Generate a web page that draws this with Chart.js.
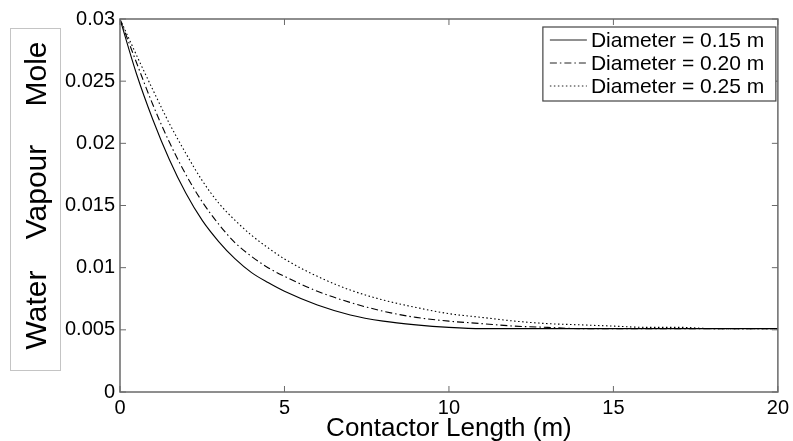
<!DOCTYPE html>
<html>
<head>
<meta charset="utf-8">
<script src="https://cdn.jsdelivr.net/npm/chart.js@4.4.0/dist/chart.umd.min.js"></script>
<style>
html, body { margin: 0; padding: 0; background: #fff; }
#wrap { width: 793px; height: 441px; }
</style>
</head>
<body>
<div id="wrap"><canvas id="chart" width="793" height="441"></canvas></div>
<script>
// Contactor length (m)
const lengths = [0, 0.5, 1, 1.5, 2, 2.5, 3, 3.5, 4, 4.5, 5, 6, 7, 8, 9, 10, 11, 12, 13, 14, 15, 16, 17, 18, 19, 20];

// Water vapour mole fraction for each diameter
const d015 = [0.0300, 0.0256, 0.0219, 0.0187, 0.0160, 0.0138, 0.0121, 0.0107, 0.0096, 0.0088, 0.0081, 0.0070, 0.0062, 0.0057, 0.0054, 0.0052, 0.0051, 0.0051, 0.0051, 0.0051, 0.0051, 0.0051, 0.0051, 0.0051, 0.0051, 0.0051];
const d020 = [0.0300, 0.0265, 0.0231, 0.0201, 0.0175, 0.0153, 0.0135, 0.0120, 0.0109, 0.0100, 0.0093, 0.0081, 0.0072, 0.0065, 0.0060, 0.0057, 0.0055, 0.0053, 0.0052, 0.0051, 0.0051, 0.0051, 0.0051, 0.0051, 0.0051, 0.0051];
const d025 = [0.0300, 0.0271, 0.0243, 0.0216, 0.0192, 0.0170, 0.0152, 0.0138, 0.0126, 0.0116, 0.0107, 0.0093, 0.0082, 0.0074, 0.0068, 0.0063, 0.0060, 0.0057, 0.0055, 0.0054, 0.0053, 0.0052, 0.0052, 0.0051, 0.0051, 0.0051];

const seriesLabels = ['Diameter = 0.15 m', 'Diameter = 0.20 m', 'Diameter = 0.25 m'];
const xTicks = [0, 5, 10, 15, 20];
const yTicks = [0, 0.005, 0.01, 0.015, 0.02, 0.025, 0.03];
const yTickLabels = ['0', '0.005', '0.01', '0.015', '0.02', '0.025', '0.03'];
const yTitleWords = ['Water', 'Vapour', 'Mole'];

Chart.defaults.font.family = '"Liberation Sans", Arial, sans-serif';
Chart.defaults.color = '#000';

function points(values) {
    return lengths.map((x, i) => ({ x: x, y: values[i] }));
}

// Box, inward ticks, legend and the boxed y title (MATLAB look)
const framePlugin = {
    id: 'frame',
    afterDraw(chart) {
        const { ctx, chartArea: a, scales: { x, y } } = chart;
        ctx.save();

        // axes box
        ctx.strokeStyle = '#6a6a6a';
        ctx.lineWidth = 1.5;
        ctx.strokeRect(a.left, a.top, a.right - a.left, a.bottom - a.top);

        // inward ticks
        ctx.beginPath();
        xTicks.forEach(v => {
            const px = x.getPixelForValue(v);
            ctx.moveTo(px, a.bottom); ctx.lineTo(px, a.bottom - 6);
            ctx.moveTo(px, a.top); ctx.lineTo(px, a.top + 6);
        });
        yTicks.forEach(v => {
            const py = y.getPixelForValue(v);
            ctx.moveTo(a.left, py); ctx.lineTo(a.left + 6, py);
            ctx.moveTo(a.right, py); ctx.lineTo(a.right - 6, py);
        });
        ctx.lineWidth = 1;
        ctx.stroke();

        // legend
        const lx = a.right - 235, ly = a.top + 8, lw = 233, lh = 74;
        ctx.fillStyle = '#fff';
        ctx.fillRect(lx, ly, lw, lh);
        ctx.strokeStyle = '#444';
        ctx.lineWidth = 1.2;
        ctx.strokeRect(lx, ly, lw, lh);
        ctx.font = '21px "Liberation Sans", Arial, sans-serif';
        ctx.textBaseline = 'middle';
        ctx.textAlign = 'left';
        chart.data.datasets.forEach((ds, i) => {
            const cy = ly + 13 + i * 23;
            ctx.beginPath();
            ctx.setLineDash(ds.borderDash || []);
            ctx.strokeStyle = '#222';
            ctx.lineWidth = 1;
            ctx.moveTo(lx + 7, cy);
            ctx.lineTo(lx + 44, cy);
            ctx.stroke();
            ctx.setLineDash([]);
            ctx.fillStyle = '#000';
            ctx.fillText(ds.label, lx + 48, cy + 1);
        });

        // y title in a light box
        ctx.strokeStyle = '#c4c4c4';
        ctx.lineWidth = 1;
        ctx.strokeRect(10.5, 28.5, 50, 342);
        ctx.font = '30px "Liberation Sans", Arial, sans-serif';
        ctx.textAlign = 'center';
        ctx.fillStyle = '#000';
        const wordY = [310, 192, 74];
        yTitleWords.forEach((w, i) => {
            ctx.save();
            ctx.translate(38, wordY[i]);
            ctx.rotate(-Math.PI / 2);
            ctx.fillText(w, 0, 0);
            ctx.restore();
        });

        ctx.restore();
    }
};

new Chart(document.getElementById('chart'), {
    type: 'line',
    data: {
        datasets: [{
            label: seriesLabels[0],
            data: points(d015),
            borderColor: '#000',
            borderWidth: 1.1,
            pointRadius: 0,
            cubicInterpolationMode: 'monotone',
            fill: false
        }, {
            label: seriesLabels[1],
            data: points(d020),
            borderColor: '#000',
            borderWidth: 1.1,
            borderDash: [7, 3, 1.5, 3],
            pointRadius: 0,
            cubicInterpolationMode: 'monotone',
            fill: false
        }, {
            label: seriesLabels[2],
            data: points(d025),
            borderColor: '#000',
            borderWidth: 1.1,
            borderDash: [1.5, 2.5],
            pointRadius: 0,
            cubicInterpolationMode: 'monotone',
            fill: false
        }]
    },
    options: {
        responsive: false,
        animation: false,
        layout: {
            autoPadding: false,
            padding: { left: 0, right: 13, top: 19, bottom: 0 }
        },
        plugins: {
            legend: { display: false },
            tooltip: { enabled: false }
        },
        scales: {
            x: {
                type: 'linear',
                min: 0,
                max: 20,
                afterBuildTicks: s => { s.ticks = xTicks.map(v => ({ value: v })); },
                afterFit: s => { s.height = 49; },
                grid: { display: false, drawTicks: false },
                border: { display: false },
                ticks: {
                    font: { size: 20 },
                    padding: 4,
                    maxRotation: 0,
                    autoSkip: false
                },
                title: {
                    display: true,
                    text: 'Contactor Length (m)',
                    font: { size: 26 },
                    padding: { top: 0, bottom: -3 }
                }
            },
            y: {
                type: 'linear',
                min: 0,
                max: 0.03,
                afterBuildTicks: s => { s.ticks = yTicks.map(v => ({ value: v })); },
                afterFit: s => { s.width = 120; },
                grid: { display: false, drawTicks: false },
                border: { display: false },
                ticks: {
                    font: { size: 20 },
                    padding: 5,
                    autoSkip: false,
                    callback: (v, i) => yTickLabels[i]
                }
            }
        }
    },
    plugins: [framePlugin]
});
</script>
</body>
</html>
